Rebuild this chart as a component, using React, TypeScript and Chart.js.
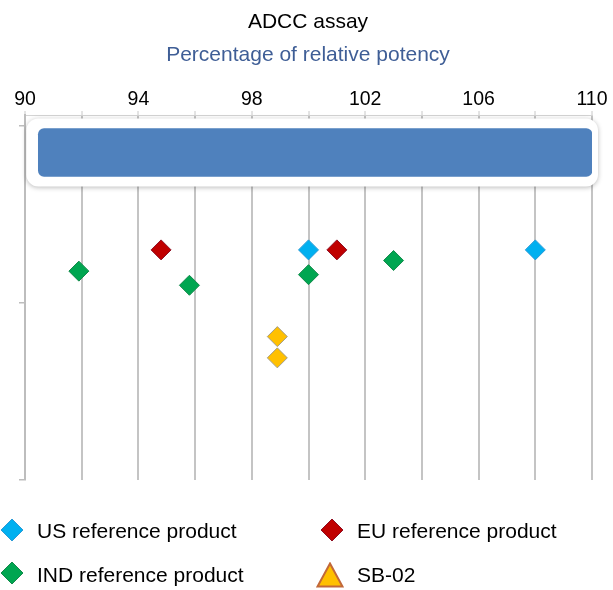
import React, { useEffect, useRef } from 'react';
import { Chart, registerables } from 'chart.js';

Chart.register(...registerables);

const FONT = "'Liberation Sans', Arial, sans-serif";

// Axis ticks
const xTickLabels = [90, 94, 98, 102, 106, 110];
const xMin = 90;
const xMax = 110;

// Reference range bar
const rangeStart = 90.47;
const rangeEnd = 110;
const rangeRow = 1.85;

// Series (x = % relative potency, y = row position)
const usX = [100, 108];
const usY = [1.3, 1.3];
const euX = [94.8, 101];
const euY = [1.3, 1.3];
const indX = [91.9, 95.8, 100, 103];
const indY = [1.18, 1.1, 1.16, 1.24];
const sbX = [98.9, 98.9];
const sbY = [0.81, 0.69];

const seriesNames = ['US reference product', 'EU reference product', 'IND reference product', 'SB-02'];
const seriesFill = ['#00B0F0', '#C00000', '#00A651', '#FFC000'];
const seriesBorder = ['#2A9AD6', '#8E0E22', '#12894A', '#A39C86'];

const pts = (xs: number[], ys: number[]) => xs.map((x, i) => ({ x, y: ys[i] }));

const boxPlugin = {
  id: 'rangeBox',
  beforeDatasetsDraw(chart: any) {
    const meta = chart.getDatasetMeta(0);
    const el = meta && meta.data && meta.data[0];
    if (!el) return;
    const { x, y, base, height } = el.getProps(['x', 'y', 'base', 'height'], true);
    const left = Math.min(x, base) - 12;
    const right = Math.max(x, base) + 6;
    const top = y - height / 2 - 10;
    const bottom = y + height / 2 + 10;
    const ctx = chart.ctx;
    ctx.save();
    ctx.shadowColor = 'rgba(0,0,0,0.28)';
    ctx.shadowBlur = 5;
    ctx.shadowOffsetY = 1;
    ctx.fillStyle = '#ffffff';
    ctx.beginPath();
    ctx.roundRect(left, top, right - left, bottom - top, 12);
    ctx.fill();
    ctx.restore();
  },
};

function Diamond({ cx, cy, fill, stroke }: { cx: number; cy: number; fill: string; stroke: string }) {
  const r = 11;
  return (
    <svg style={{ position: 'absolute', left: cx - r - 1, top: cy - r - 1 }} width={2 * r + 2} height={2 * r + 2}>
      <polygon
        points={`${r + 1},1 ${2 * r + 1},${r + 1} ${r + 1},${2 * r + 1} 1,${r + 1}`}
        fill={fill}
        stroke={stroke}
        strokeWidth={1}
      />
    </svg>
  );
}

function Triangle({ cx, cy, fill, stroke }: { cx: number; cy: number; fill: string; stroke: string }) {
  return (
    <svg style={{ position: 'absolute', left: cx - 14, top: cy - 13 }} width={28} height={26}>
      <polygon points="14,1.5 26.5,24.5 1.5,24.5" fill={fill} stroke="#C2683A" strokeWidth={2} strokeLinejoin="miter" />
    </svg>
  );
}

export default function App() {
  const ref = useRef<HTMLCanvasElement | null>(null);

  useEffect(() => {
    if (!ref.current) return;
    const chart = new Chart(ref.current, {
      type: 'scatter',
      data: {
        datasets: [
          {
            type: 'bar',
            label: 'range',
            indexAxis: 'y',
            data: [{ x: [rangeStart, rangeEnd], y: rangeRow }],
            backgroundColor: '#4F81BD',
            borderWidth: 0,
            borderRadius: 6,
            borderSkipped: false,
            barThickness: 48,
          } as any,
          {
            label: seriesNames[0],
            data: pts(usX, usY),
            pointStyle: 'rectRot',
            pointRadius: 10,
            backgroundColor: seriesFill[0],
            borderColor: seriesBorder[0],
            borderWidth: 1,
          },
          {
            label: seriesNames[1],
            data: pts(euX, euY),
            pointStyle: 'rectRot',
            pointRadius: 10,
            backgroundColor: seriesFill[1],
            borderColor: seriesBorder[1],
            borderWidth: 1,
          },
          {
            label: seriesNames[2],
            data: pts(indX, indY),
            pointStyle: 'rectRot',
            pointRadius: 10,
            backgroundColor: seriesFill[2],
            borderColor: seriesBorder[2],
            borderWidth: 1,
          },
          {
            label: seriesNames[3],
            data: pts(sbX, sbY),
            pointStyle: 'rectRot',
            pointRadius: 10,
            backgroundColor: seriesFill[3],
            borderColor: seriesBorder[3],
            borderWidth: 1,
          },
        ],
      },
      options: {
        animation: false,
        responsive: true,
        maintainAspectRatio: false,
        layout: { padding: { left: 24, right: 21, top: 0, bottom: 110 } },
        plugins: {
          legend: { display: false },
          tooltip: { enabled: false },
          title: {
            display: true,
            text: 'ADCC assay',
            color: '#000000',
            font: { size: 21, weight: 'normal', family: FONT },
            padding: { top: 10, bottom: 0 },
          },
          subtitle: {
            display: true,
            text: 'Percentage of relative potency',
            color: '#3F5E96',
            font: { size: 21, weight: 'normal', family: FONT },
            padding: { top: 7.2, bottom: 0 },
          },
        },
        scales: {
          x: {
            type: 'linear',
            position: 'top',
            min: xMin,
            max: xMax,
            offset: false,
            ticks: {
              stepSize: 2,
              autoSkip: false,
              maxRotation: 0,
              minRotation: 0,
              padding: 0,
              color: '#000000',
              font: { size: 19.5, family: FONT },
              callback: (v: any) => (xTickLabels.includes(Number(v)) ? String(v) : ''),
            },
            grid: {
              color: '#C4C4C4',
              lineWidth: 2,
              drawTicks: true,
              tickLength: 4,
              tickColor: '#C8C8C8',
              tickWidth: 1,
              offset: false,
            },
            border: { display: true, color: '#D4D4D4', width: 1 },
            afterFit: (s: any) => {
              s.height = 47.4;
            },
          },
          y: {
            type: 'linear',
            position: 'left',
            min: 0,
            max: 2.062,
            offset: false,
            beginAtZero: true,
            ticks: {
              stepSize: 1,
              includeBounds: false,
              padding: 0,
              callback: () => '',
            },
            grid: {
              drawOnChartArea: false,
              drawTicks: true,
              tickLength: 6,
              color: '#BDBDBD',
              tickColor: '#BDBDBD',
              lineWidth: 1.5,
              offset: false,
            },
            border: { display: true, color: '#BDBDBD', width: 2 },
            afterFit: (s: any) => {
              s.width = 1;
            },
          },
        } as any,
      },
      plugins: [boxPlugin],
    } as any);
    return () => chart.destroy();
  }, []);

  const textStyle = (left: number, top: number): React.CSSProperties => ({
    position: 'absolute',
    left,
    top,
    fontFamily: FONT,
    fontSize: 21,
    lineHeight: '21px',
    color: '#000',
    whiteSpace: 'nowrap',
  });

  return (
    <div style={{ position: 'absolute', left: 0, top: 0, width: 613, height: 590, background: '#fff' }}>
      <canvas ref={ref} style={{ position: 'absolute', left: 0, top: 0, width: 613, height: 590 }} />
      <Diamond cx={12} cy={530} fill={seriesFill[0]} stroke={seriesBorder[0]} />
      <div style={textStyle(37, 520)}>{seriesNames[0]}</div>
      <Diamond cx={332} cy={530} fill={seriesFill[1]} stroke={seriesBorder[1]} />
      <div style={textStyle(357, 520)}>{seriesNames[1]}</div>
      <Diamond cx={12} cy={573} fill={seriesFill[2]} stroke={seriesBorder[2]} />
      <div style={textStyle(37, 564)}>{seriesNames[2]}</div>
      <Triangle cx={330} cy={575} fill={seriesFill[3]} stroke={seriesBorder[3]} />
      <div style={textStyle(357, 564)}>{seriesNames[3]}</div>
    </div>
  );
}
